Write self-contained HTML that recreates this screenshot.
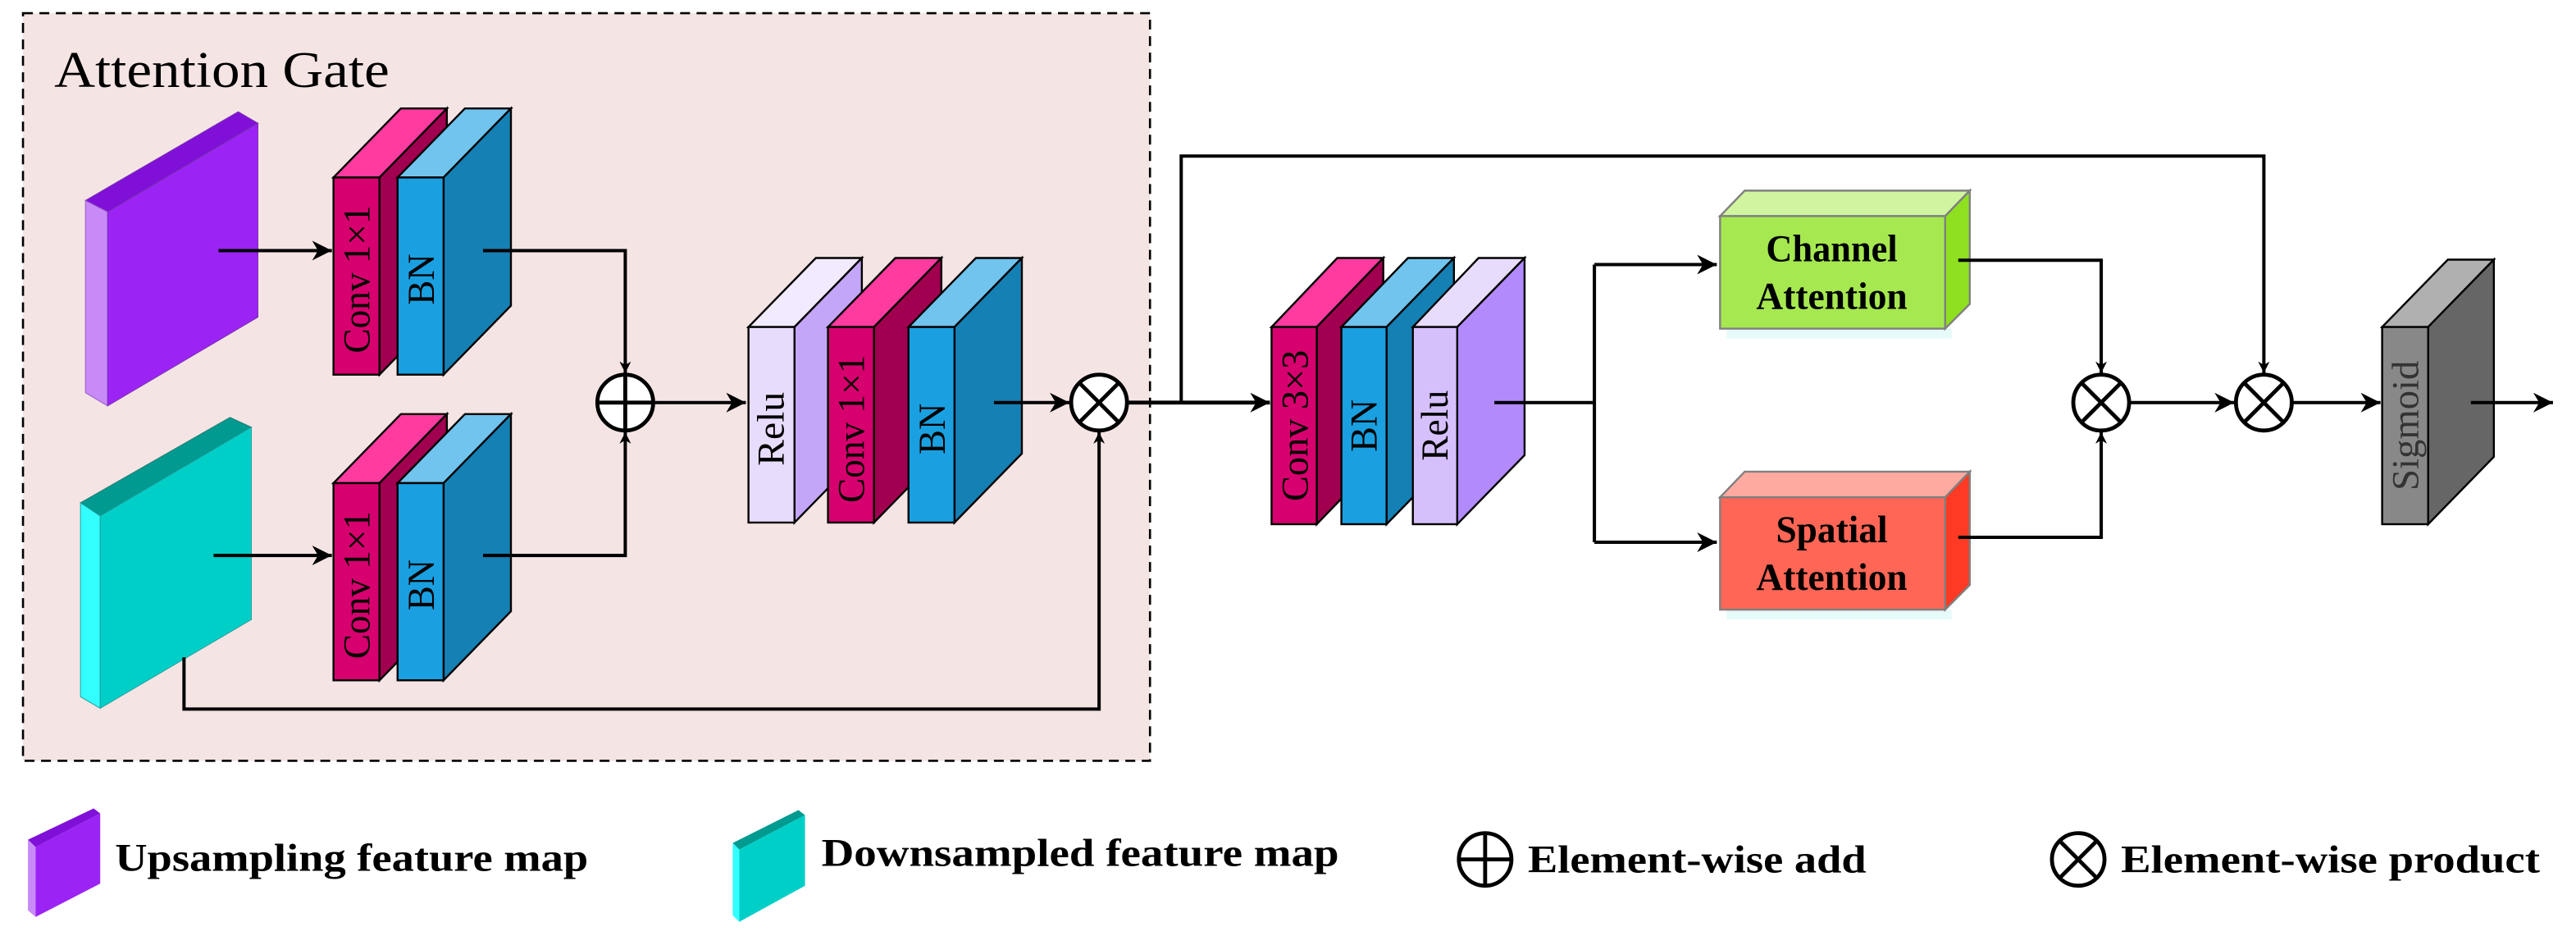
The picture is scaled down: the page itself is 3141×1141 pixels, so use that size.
<!DOCTYPE html>
<html><head><meta charset="utf-8"><style>
html,body{margin:0;padding:0;background:#fff;}
svg{display:block;}
text{font-family:"Liberation Serif",serif;}
</style></head><body>
<svg width="3141" height="1141" viewBox="0 0 1568 569.6" preserveAspectRatio="none" xmlns="http://www.w3.org/2000/svg">
<defs>
<marker id="ar" viewBox="0 0 10 10" refX="10" refY="5" markerWidth="7" markerHeight="7" markerUnits="userSpaceOnUse" orient="auto">
<path d="M0,0 L10,5 L0,10 L3,5 Z" fill="#000"/></marker>
<marker id="ab" viewBox="0 0 10 10" refX="10" refY="5" markerWidth="12" markerHeight="12" markerUnits="userSpaceOnUse" orient="auto">
<path d="M0,0 L10,5 L0,10 L3,5 Z" fill="#000"/></marker>
</defs>
<rect x="0" y="0" width="1568" height="569.6" fill="#fff"/>
<rect x="14" y="8" width="686" height="455" fill="#f5e4e4" stroke="#000" stroke-width="1.3" stroke-dasharray="6,4"/>
<text x="33" y="53" font-size="31" textLength="204" lengthAdjust="spacingAndGlyphs">Attention Gate</text>

<polygon points="52,122 145,68 157,75 65.5,129" fill="#8010d8" stroke="#7a30b0" stroke-width="0.5"/>
<polygon points="52,122 65.5,129 65.5,247 52,239" fill="#c78af7" stroke="#9a60c0" stroke-width="0.5"/>
<polygon points="65.5,129 157,75 157,193 65.5,247" fill="#9b24f5" stroke="#7a30b0" stroke-width="0.5"/>
<polygon points="49,306 140,254 153,260 61,314" fill="#009a90" stroke="#207a70" stroke-width="0.5"/>
<polygon points="49,306 61,314 61,431 49,424" fill="#33ffff" stroke="#20a0a0" stroke-width="0.5"/>
<polygon points="61,314 153,260 153,377 61,431" fill="#00cfc8" stroke="#20a0a0" stroke-width="0.5"/>

<g stroke="#000" stroke-width="1.2">
<polygon points="203,108 244,66 272,66 231,108" fill="#ff3ba0"/>
<polygon points="231,108 272,66 272,186 231,228" fill="#a0004f"/>
<rect x="203" y="108" width="28" height="120" fill="#d6006e"/>
<polygon points="242,108 283,66 311,66 270,108" fill="#70c4ee"/>
<polygon points="270,108 311,66 311,186 270,228" fill="#1580b4"/>
<rect x="242" y="108" width="28" height="120" fill="#1aa0e0"/>
<polygon points="203,294 244,252 272,252 231,294" fill="#ff3ba0"/>
<polygon points="231,294 272,252 272,372 231,414" fill="#a0004f"/>
<rect x="203" y="294" width="28" height="120" fill="#d6006e"/>
<polygon points="242,294 283,252 311,252 270,294" fill="#70c4ee"/>
<polygon points="270,294 311,252 311,372 270,414" fill="#1580b4"/>
<rect x="242" y="294" width="28" height="120" fill="#1aa0e0"/>
<polygon points="455.6,199 496.6,157 524.6,157 483.6,199" fill="#f2eafe"/>
<polygon points="483.6,199 524.6,157 524.6,276 483.6,318" fill="#c4a6f8"/>
<rect x="455.6" y="199" width="28" height="119" fill="#e8dcfc"/>
<polygon points="504,199 545,157 573,157 532,199" fill="#ff3ba0"/>
<polygon points="532,199 573,157 573,276 532,318" fill="#a0004f"/>
<rect x="504" y="199" width="28" height="119" fill="#d6006e"/>
<polygon points="553,199 594,157 622,157 581,199" fill="#70c4ee"/>
<polygon points="581,199 622,157 622,276 581,318" fill="#1580b4"/>
<rect x="553" y="199" width="28" height="119" fill="#1aa0e0"/>

<polygon points="774,199 814,157 842,157 801.5,199" fill="#ff3ba0"/>
<polygon points="801.5,199 842,157 842,277 801.5,319" fill="#a0004f"/>
<rect x="774" y="199" width="27.5" height="120" fill="#d6006e"/>
<polygon points="816.5,199 857,157 885,157 844,199" fill="#70c4ee"/>
<polygon points="844,199 885,157 885,277 844,319" fill="#1580b4"/>
<rect x="816.5" y="199" width="27.5" height="120" fill="#1aa0e0"/>
<polygon points="860,199 900,157 928,157 887,199" fill="#e8dcfc"/>
<polygon points="887,199 928,157 928,277 887,319" fill="#b38afc"/>
<rect x="860" y="199" width="27" height="120" fill="#d6c0fc"/>
<polygon points="1450,199 1490,158 1518,158 1478,199" fill="#b0b0b0"/>
<polygon points="1478,199 1518,158 1518,278 1478,319" fill="#666"/>
<rect x="1450" y="199" width="28" height="120" fill="#888"/>
</g>

<rect x="1051" y="200" width="137" height="6" fill="#e6fafa"/>
<g stroke="#808080" stroke-width="1.2">
<polygon points="1047,131.5 1062,116 1199,116 1184,131.5" fill="#d0f4a0"/>
<polygon points="1184,131.5 1199,116 1199,185 1184,200" fill="#8ee020"/>
<rect x="1047" y="131.5" width="137" height="68.5" fill="#a6e850"/>
</g>
<rect x="1051" y="371" width="137" height="6" fill="#e6fafa"/>
<g stroke="#808080" stroke-width="1.2">
<polygon points="1047,302.6 1062,287 1199,287 1184,302.6" fill="#ffaaa0"/>
<polygon points="1184,302.6 1199,287 1199,356 1184,371" fill="#ff3a24"/>
<rect x="1047" y="302.6" width="137" height="68.4" fill="#ff6656"/>
</g>
<g font-weight="bold" font-size="23" text-anchor="middle" lengthAdjust="spacingAndGlyphs">
<text x="1115" y="159" textLength="80" lengthAdjust="spacingAndGlyphs">Channel</text>
<text x="1115" y="188" textLength="92" lengthAdjust="spacingAndGlyphs">Attention</text>
<text x="1115" y="330" textLength="68" lengthAdjust="spacingAndGlyphs">Spatial</text>
<text x="1115" y="359" textLength="92" lengthAdjust="spacingAndGlyphs">Attention</text>
</g>

<g font-size="23" text-anchor="middle">
<text transform="translate(225,170) rotate(-90)" textLength="90" lengthAdjust="spacingAndGlyphs">Conv 1×1</text>
<text transform="translate(264,170) rotate(-90)" textLength="31" lengthAdjust="spacingAndGlyphs">BN</text>
<text transform="translate(225,356) rotate(-90)" textLength="90" lengthAdjust="spacingAndGlyphs">Conv 1×1</text>
<text transform="translate(264,356) rotate(-90)" textLength="31" lengthAdjust="spacingAndGlyphs">BN</text>
<text transform="translate(477,261) rotate(-90)" textLength="45" lengthAdjust="spacingAndGlyphs">Relu</text>
<text transform="translate(526,261) rotate(-90)" textLength="90" lengthAdjust="spacingAndGlyphs">Conv 1×1</text>
<text transform="translate(575,261) rotate(-90)" textLength="31" lengthAdjust="spacingAndGlyphs">BN</text>
<text transform="translate(796,259) rotate(-90)" textLength="92" lengthAdjust="spacingAndGlyphs">Conv 3×3</text>
<text transform="translate(838,259) rotate(-90)" textLength="32" lengthAdjust="spacingAndGlyphs">BN</text>
<text transform="translate(881,259) rotate(-90)" textLength="43" lengthAdjust="spacingAndGlyphs">Relu</text>
<text transform="translate(1472,259) rotate(-90)" fill="#333" textLength="79" lengthAdjust="spacingAndGlyphs">Sigmoid</text>
</g>

<g fill="none" stroke="#000" stroke-width="2">
<line x1="133" y1="152.5" x2="202" y2="152.5" marker-end="url(#ab)"/>
<line x1="130" y1="338" x2="202" y2="338" marker-end="url(#ab)"/>
<polyline points="294,152.5 380.6,152.5 380.6,227" marker-end="url(#ar)"/>
<polyline points="294,338 380.6,338 380.6,263" marker-end="url(#ar)"/>
<line x1="398" y1="245" x2="454" y2="245" marker-end="url(#ab)"/>
<line x1="605" y1="245" x2="651" y2="245" marker-end="url(#ab)"/>
<polyline points="112,400 112,431.5 669,431.5 669,263" marker-end="url(#ar)"/>
<line x1="686" y1="245" x2="773" y2="245" stroke-width="2.4" marker-end="url(#ab)"/>
<polyline points="719,245 719,95 1378,95 1378,227" marker-end="url(#ar)"/>
<line x1="909.6" y1="245" x2="970.5" y2="245"/>
<polyline points="970.5,161 970.5,330"/>
<line x1="970.5" y1="161" x2="1045" y2="161" marker-end="url(#ab)"/>
<line x1="970.5" y1="330" x2="1045" y2="330" marker-end="url(#ab)"/>
<polyline points="1192,158.4 1279,158.4 1279,227" marker-end="url(#ar)"/>
<polyline points="1192,327 1279,327 1279,263" marker-end="url(#ar)"/>
<line x1="1296" y1="245" x2="1360" y2="245" marker-end="url(#ab)"/>
<line x1="1395" y1="245" x2="1449" y2="245" marker-end="url(#ab)"/>
<line x1="1504" y1="245" x2="1554" y2="245" marker-end="url(#ab)"/>
</g>

<g fill="#fff" stroke="#000" stroke-width="2.4">
<circle cx="380.6" cy="245" r="17"/>
<line x1="363.6" y1="245" x2="397.6" y2="245"/>
<line x1="380.6" y1="228" x2="380.6" y2="262"/>
<circle cx="669" cy="245" r="17"/>
<line x1="657" y1="233" x2="681" y2="257"/><line x1="681" y1="233" x2="657" y2="257"/>
<circle cx="1279" cy="245" r="17"/>
<line x1="1267" y1="233" x2="1291" y2="257"/><line x1="1291" y1="233" x2="1267" y2="257"/>
<circle cx="1378" cy="245" r="17"/>
<line x1="1366" y1="233" x2="1390" y2="257"/><line x1="1390" y1="233" x2="1366" y2="257"/>
</g>

<polygon points="17,511 57,492 61,495 21.7,515.5" fill="#8010d8"/>
<polygon points="17,511 21.7,515.5 21.7,558 17,554" fill="#c78af7"/>
<polygon points="21.7,515.5 61,495 61,537.7 21.7,558" fill="#9b24f5"/>
<polygon points="446,513 486,493 490,496 450,517" fill="#009a90"/>
<polygon points="446,513 450,517 450,561 446,557" fill="#33ffff"/>
<polygon points="450,517 490,496 490,539 450,561" fill="#00cfc8"/>
<g fill="#fff" stroke="#000" stroke-width="2.4">
<circle cx="904" cy="523" r="16"/>
<line x1="888" y1="523" x2="920" y2="523"/><line x1="904" y1="507" x2="904" y2="539"/>
<circle cx="1265" cy="523" r="16"/>
<line x1="1254" y1="512" x2="1276" y2="534"/><line x1="1276" y1="512" x2="1254" y2="534"/>
</g>
<g font-weight="bold" font-size="24">
<text x="70" y="530" textLength="288" lengthAdjust="spacingAndGlyphs">Upsampling feature map</text>
<text x="500" y="527" textLength="315" lengthAdjust="spacingAndGlyphs">Downsampled feature map</text>
<text x="930" y="531" textLength="206" lengthAdjust="spacingAndGlyphs">Element-wise add</text>
<text x="1291" y="531" textLength="255" lengthAdjust="spacingAndGlyphs">Element-wise product</text>
</g>
</svg>
</body></html>
